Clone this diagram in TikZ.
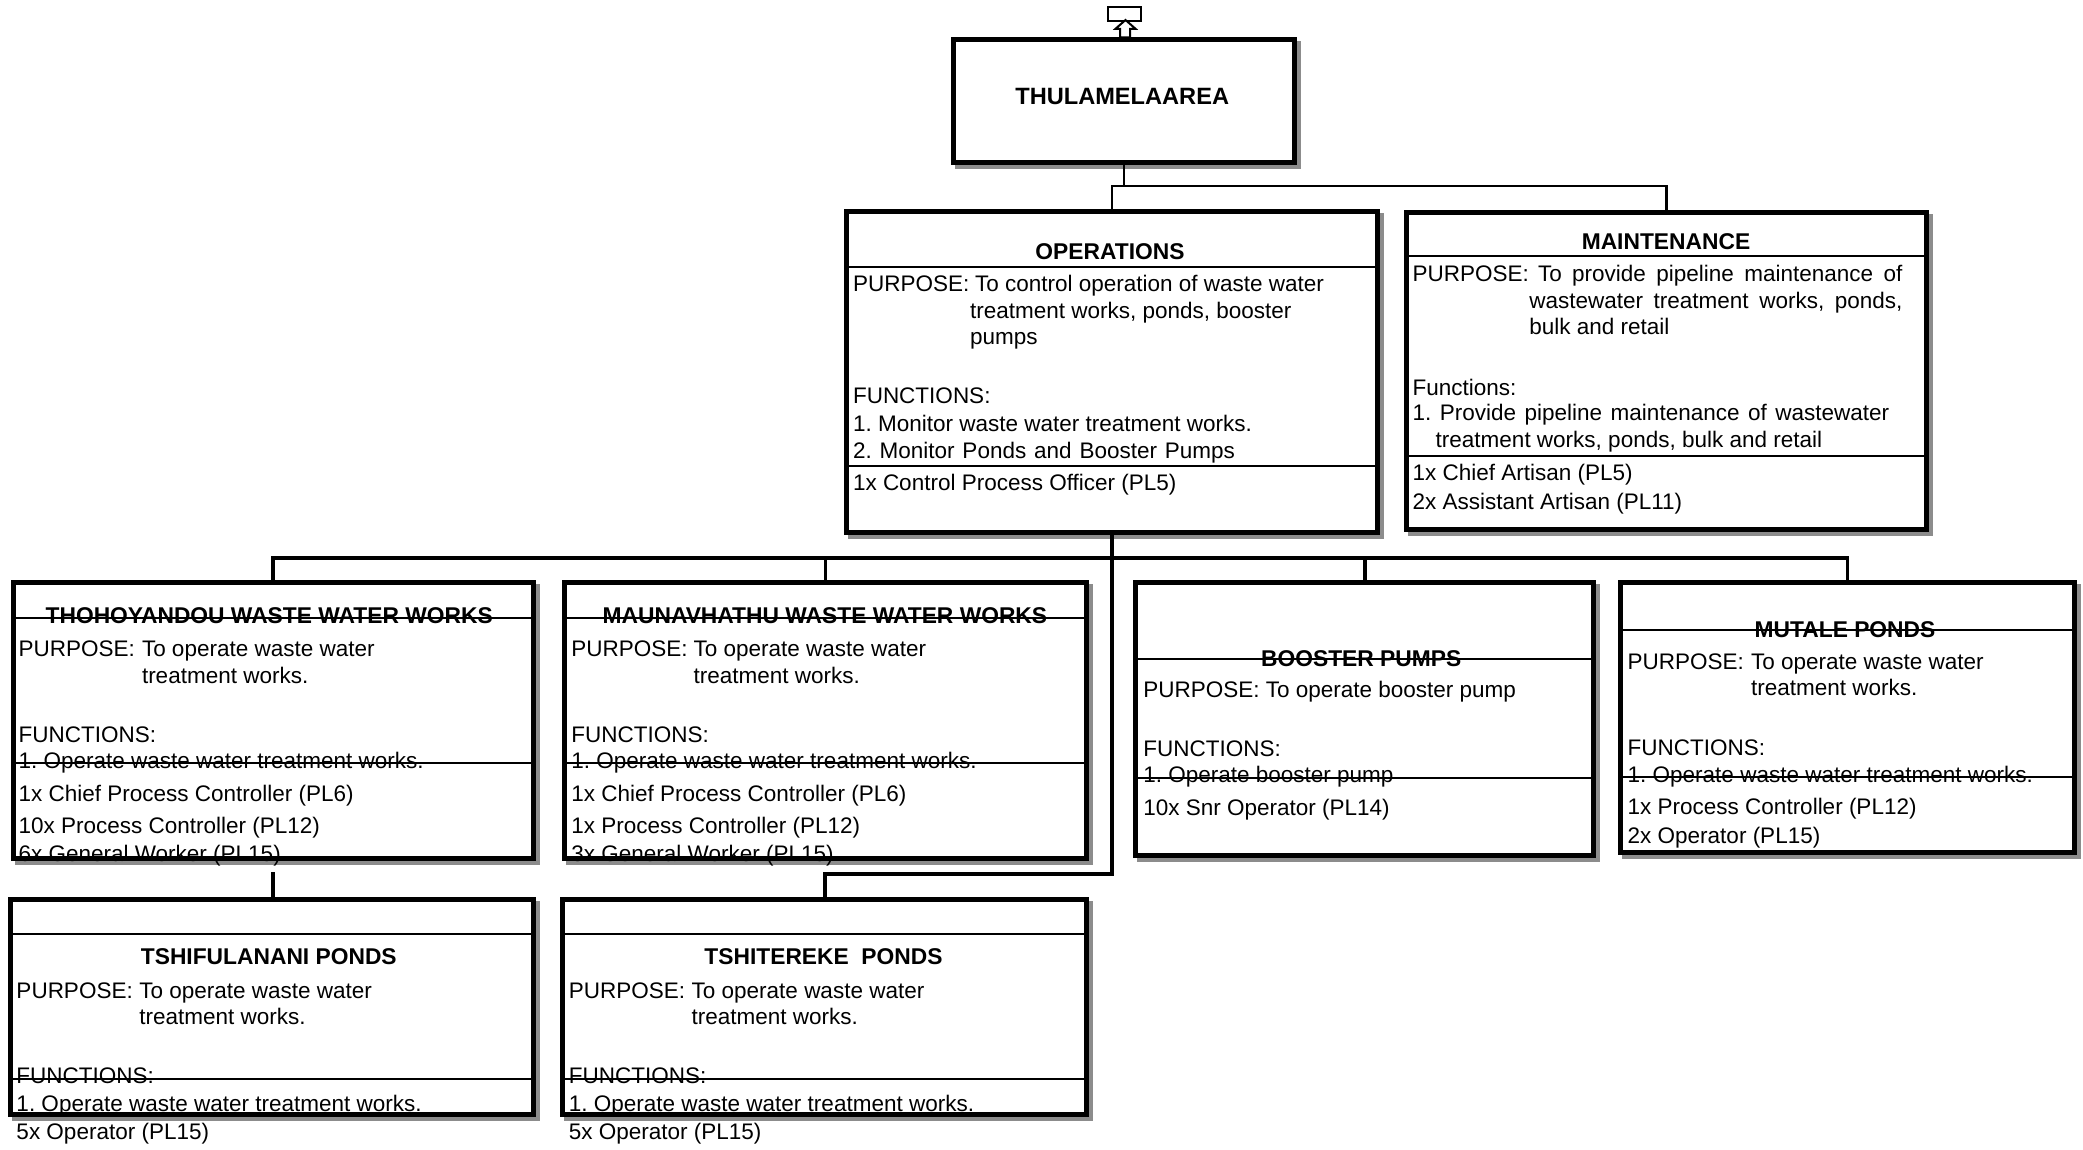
\documentclass[tikz,border=0pt]{standalone}
\usepackage{fontspec}
\setmainfont{Liberation Sans}
\frenchspacing
\newcommand\fsN{\fontsize{11.25pt}{13.5pt}\selectfont\frenchspacing}
\newcommand\fsB{\fontsize{11.4pt}{13.5pt}\selectfont\bfseries}
\newcommand\fsT{\fontsize{11.8pt}{14pt}\selectfont\bfseries}
\tikzset{
 boxst/.style={draw=black, fill=white, line width=2.5pt, inner sep=0pt, outer sep=0pt, rectangle},
 shadowc/.style={fill=black!45},
 divst/.style={line width=1pt},
 conn1/.style={line width=1.15pt},
 conn2/.style={line width=1.85pt},
 txt/.style={anchor=west, inner sep=0pt, outer sep=0pt, text height=8pt, text depth=0pt, font=\fsN},
 ttl/.style={anchor=center, inner sep=0pt, outer sep=0pt, text height=8.2pt, text depth=0pt, font=\fsB},
}
% name, left, top, right, bottom (outer edges, px)
\newcommand\OBox[5]{%
  \fill[shadowc] (#2+4,#3+4) rectangle (#4+4,#5+4);
  \node[boxst, minimum width={(#4-#2-5)*0.5pt}, minimum height={(#5-#3-5)*0.5pt}] (#1) at ({(#2+#4)/2},{(#3+#5)/2}) {};
}
\newcommand\Dv[3]{\draw[divst] (#1,#3) -- (#2,#3);}
\newcommand\TL[4]{\node[txt] (#1) at (#2,#3) {#4};}
\newcommand\TT[4]{\node[ttl] (#1) at (#2,#3) {#4};}
\begin{document}
\begin{tikzpicture}[x=0.5pt,y=-0.5pt]
\fill[white] (0,0) rectangle (2083,1150);
\useasboundingbox (0,0) rectangle (2083,1150);

% ---------- top icon ----------
\node[draw, line width=1pt, fill=white, inner sep=0pt, outer sep=0pt, minimum width=16.5pt, minimum height=6.85pt] (icon) at (1124.2,13.85) {};

% ---------- THULAMELA ----------
\OBox{thul}{951}{37.3}{1296.7}{165}
\node[ttl, font=\fsT] (thulT) at (1122.2,96.3) {THULAMELAAREA};
\draw[line width=1pt, fill=white] (1120,37.3) -- (1120,28.8) -- (1115.5,28.8) -- (1125.5,20) -- (1135.5,28.8) -- (1130,28.8) -- (1130,37.3) -- cycle;

% ---------- OPERATIONS ----------
\OBox{ops}{844}{209}{1380}{535}
\Dv{846}{1378}{266.7}
\Dv{846}{1378}{466}
\TT{opsT}{1110}{251.5}{OPERATIONS}
\TL{o1}{853}{283.5}{PURPOSE:}
\TL{o2}{975}{283.5}{To control operation of waste water}
\TL{o3}{970}{310.2}{treatment works, ponds, booster}
\TL{o4}{970}{336.9}{pumps}
\TL{o5}{853}{395.8}{FUNCTIONS:}
\TL{o6}{853}{423.8}{1. Monitor waste water treatment works.}
\TL{o7}{853}{450}{\makebox[191pt][s]{2. Monitor Ponds and Booster Pumps}}
\TL{o8}{853}{482.8}{1x Control Process Officer (PL5)}

% ---------- MAINTENANCE ----------
\OBox{maint}{1403.6}{210}{1929.3}{531.7}
\Dv{1405}{1927}{255.7}
\Dv{1405}{1927}{455.7}
\TT{maintT}{1666}{241.3}{MAINTENANCE}
\TL{m1}{1412.5}{273.5}{PURPOSE:}
\TL{m2}{1538}{273.5}{\makebox[182.25pt][s]{To provide pipeline maintenance of}}
\TL{m3}{1529.3}{300.2}{\makebox[186.6pt][s]{wastewater treatment works, ponds,}}
\TL{m4}{1529.3}{326.9}{bulk and retail}
\TL{m5}{1412.5}{387.2}{Functions:}
\TL{m6}{1412.5}{412.5}{\makebox[238.4pt][s]{1. Provide pipeline maintenance of wastewater}}
\TL{m7}{1435.7}{439.2}{treatment works, ponds, bulk and retail}
\TL{m8}{1412.5}{472.2}{1x Chief Artisan (PL5)}
\TL{m9}{1412.5}{501.3}{2x Assistant Artisan (PL11)}

% ---------- THOHOYANDOU ----------
\OBox{thoh}{10.7}{580}{535.7}{860.7}
\Dv{12}{534}{617.7}
\Dv{12}{534}{763.3}
\TT{thohT}{269.2}{615}{THOHOYANDOU WASTE WATER WORKS}
\TL{a1}{18.6}{648}{PURPOSE:}
\TL{a2}{142}{648}{To operate waste water}
\TL{a3}{142}{675}{treatment works.}
\TL{a4}{18.6}{734.5}{FUNCTIONS:}
\TL{a5}{18.6}{760.5}{1. Operate waste water treatment works.}
\TL{a6}{18.6}{793}{1x Chief Process Controller (PL6)}
\TL{a7}{18.6}{825}{10x Process Controller (PL12)}
\TL{a8}{18.6}{853}{6x General Worker (PL15)}

% ---------- MAUNAVHATHU ----------
\OBox{maun}{561.5}{580}{1089.4}{860.7}
\Dv{563}{1088}{617.7}
\Dv{563}{1088}{763.3}
\TT{maunT}{824.9}{615}{MAUNAVHATHU WASTE WATER WORKS}
\TL{b1t}{571.4}{648}{PURPOSE:}
\TL{b2t}{693.5}{648}{To operate waste water}
\TL{b3t}{693.5}{675}{treatment works.}
\TL{b4t}{571.4}{734.5}{FUNCTIONS:}
\TL{b5t}{571.4}{760.5}{1. Operate waste water treatment works.}
\TL{b6t}{571.4}{793}{1x Chief Process Controller (PL6)}
\TL{b7t}{571.4}{825}{1x Process Controller (PL12)}
\TL{b8t}{571.4}{853}{3x General Worker (PL15)}

% ---------- BOOSTER PUMPS ----------
\OBox{boost}{1133.3}{580}{1596}{858.3}
\Dv{1135}{1594}{659.3}
\Dv{1135}{1594}{778.3}
\TT{boostT}{1361.2}{658}{BOOSTER PUMPS}
\TL{c1}{1143.3}{689.2}{PURPOSE: To operate booster pump}
\TL{c2}{1143.3}{748.7}{FUNCTIONS:}
\TL{c3}{1143.3}{774.8}{1. Operate booster pump}
\TL{c4}{1143.3}{807}{10x Snr Operator (PL14)}

% ---------- MUTALE PONDS ----------
\OBox{mut}{1618.3}{580}{2076.7}{855}
\Dv{1620}{2075}{630}
\Dv{1620}{2075}{776.7}
\TT{mutT}{1845}{629.5}{MUTALE PONDS}
\TL{d1}{1627.7}{661.2}{PURPOSE:}
\TL{d2}{1751}{661.2}{To operate waste water}
\TL{d3}{1751}{687.5}{treatment works.}
\TL{d4}{1627.7}{747.2}{FUNCTIONS:}
\TL{d5}{1627.7}{774.8}{1. Operate waste water treatment works.}
\TL{d6}{1627.7}{806.2}{1x Process Controller (PL12)}
\TL{d7}{1627.7}{835.5}{2x Operator (PL15)}

% ---------- TSHIFULANANI ----------
\OBox{tshif}{8}{897.3}{535.7}{1117.3}
\Dv{10}{534}{934}
\Dv{10}{534}{1079.3}
\TT{tshifT}{268.8}{956.7}{TSHIFULANANI PONDS}
\TL{e1}{16.5}{990.8}{PURPOSE:}
\TL{e2}{139.3}{990.8}{To operate waste water}
\TL{e3}{139.3}{1016.8}{treatment works.}
\TL{e4}{16.5}{1075.8}{FUNCTIONS:}
\TL{e5}{16.5}{1103}{1. Operate waste water treatment works.}
\TL{e6}{16.5}{1131}{5x Operator (PL15)}

% ---------- TSHITEREKE ----------
\OBox{tshit}{560.3}{897.3}{1089.4}{1117.3}
\Dv{562}{1088}{934}
\Dv{562}{1088}{1079.3}
\TT{tshitT}{823.5}{956.7}{TSHITEREKE\ \ PONDS}
\TL{f1}{568.9}{990.8}{PURPOSE:}
\TL{f2}{691.7}{990.8}{To operate waste water}
\TL{f3}{691.7}{1016.8}{treatment works.}
\TL{f4}{568.9}{1075.8}{FUNCTIONS:}
\TL{f5}{568.9}{1103}{1. Operate waste water treatment works.}
\TL{f6}{568.9}{1131}{5x Operator (PL15)}

% ---------- connectors ----------
\coordinate (bus1) at (1124,186.3);
\draw[conn1] (thul.south) -- (thul.south |- bus1);
\draw[conn1] (ops.north) -- (ops.north |- bus1) -| (maint.north);

\coordinate (bus2) at (1112,558);
\draw[conn2] (thoh.north) -- (thoh.north |- bus2) -- (mut.north |- bus2) -- (mut.north);
\draw[conn2] (maun.north) -- (maun.north |- bus2);
\draw[conn2] (boost.north) -- (boost.north |- bus2);
\coordinate (bus3) at (1112,874);
\draw[conn2] (ops.south) -- (ops.south |- bus3) -| (tshit.north);
\draw[conn2, shorten <=7pt] (thoh.south) -- (thoh.south |- tshif.north);
\end{tikzpicture}
\end{document}
